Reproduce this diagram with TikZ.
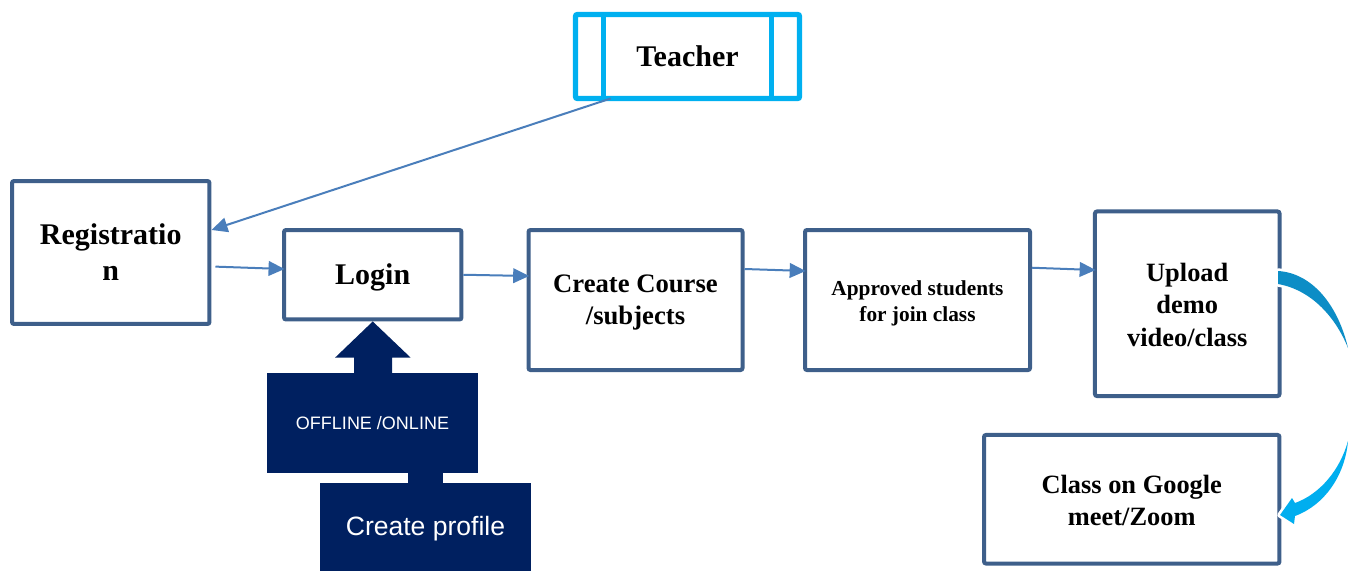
\documentclass[tikz,border=0pt]{standalone}
\usepackage{fontspec}
\setmainfont{Liberation Serif}
\newfontfamily\arialf{Liberation Sans}
\usetikzlibrary{arrows.meta,calc}
\definecolor{boxblue}{HTML}{3E5F8A}
\definecolor{arrowblue}{HTML}{4A7EBB}
\definecolor{navy}{HTML}{002060}
\definecolor{cyanb}{HTML}{00B0F0}
\definecolor{curvea}{HTML}{0C8DC6}
\definecolor{curveb}{HTML}{00AEEF}
\tikzset{
  box/.style={draw=boxblue, line width=3pt, rounded corners=1.5pt, fill=white,
    inner sep=0pt, align=center, font=\bfseries},
  lbl/.style={inner sep=0pt, align=center},
  conn/.style={draw=arrowblue, line width=1.5pt, -{Triangle[length=12pt,width=11pt]}},
  navybox/.style={fill=navy, text=white, inner sep=0pt, align=center},
  tbox/.style={draw=cyanb, line width=4pt, rounded corners=1.5pt, fill=white,
    inner sep=0pt, outer sep=0pt, align=center, font=\bfseries}
}
\begin{document}
\begin{tikzpicture}[x=0.75pt,y=-0.75pt]
\useasboundingbox (0,0) rectangle (1357,571);
\clip (0,0) rectangle (1357,571);

% Teacher
\node[tbox, minimum width=168pt, minimum height=63pt,
  font=\bfseries\fontsize{22.5pt}{26pt}\selectfont] (teacher) at (687.5,56.5) {Teacher};
\draw[cyanb, line width=4pt] ([xshift=-63.2pt]teacher.north) -- ([xshift=-63.2pt]teacher.south);
\draw[cyanb, line width=4pt] ([xshift=63.2pt]teacher.north) -- ([xshift=63.2pt]teacher.south);

% Main boxes
\node[box, minimum width=148.1pt, minimum height=107.2pt,
  font=\bfseries\fontsize{22.5pt}{27pt}\selectfont] (reg) at (110.75,252.5) {Registratio\\n};
\node[box, minimum width=133.1pt, minimum height=67.1pt,
  label={[lbl, yshift=-2.2pt, font=\bfseries\fontsize{22.5pt}{26pt}\selectfont]center:Login}]
  (login) at (372.75,274.75) {};
\node[box, minimum width=160.5pt, minimum height=105pt,
  label={[lbl, yshift=-2.2pt, font=\bfseries\fontsize{20pt}{24pt}\selectfont]center:Create Course\\/subjects}]
  (create) at (635.5,300) {};
\node[box, minimum width=168.75pt, minimum height=105pt,
  label={[lbl, yshift=-2.2pt, font=\bfseries\fontsize{16pt}{19.5pt}\selectfont]center:Approved students\\for join class}]
  (appr) at (917.5,300) {};
\node[box, minimum width=138.4pt, minimum height=138.4pt,
  label={[lbl, yshift=-0.8pt, font=\bfseries\fontsize{19.8pt}{24.4pt}\selectfont]center:Upload\\demo\\video/class}]
  (upload) at (1187.25,303.75) {};
\node[box, minimum width=221.6pt, minimum height=96.4pt,
  label={[lbl, yshift=-0.8pt, font=\bfseries\fontsize{19.8pt}{24pt}\selectfont]center:Class on Google\\meet/Zoom}]
  (class) at (1131.75,499.25) {};

% Navy blocks
\node[navybox, minimum width=158.25pt, minimum height=75pt,
  font=\arialf\fontsize{13.5pt}{15pt}\selectfont] (off) at (372.5,423) {OFFLINE /ONLINE};
\node[navybox, minimum width=158.25pt, minimum height=69pt,
  font=\arialf\fontsize{19.9pt}{23pt}\selectfont] (prof) at (425.5,529) {Create profile};
\fill[navy] (408,471) rectangle (443,485);
\fill[navy] (354,374) -- (354,357.7) -- (335,357.7) -- (login.south)
  -- (410.7,357.7) -- (392,357.7) -- (392,374) -- cycle;

% Connectors
\draw[conn] ([xshift=-57.6pt]teacher.south) -- ([yshift=16.9pt]reg.east);
\draw[conn] ([xshift=3pt,yshift=-10.6pt]reg.east) -- ([xshift=1.9pt,yshift=4.3pt]login.west);
\draw[conn] (login.east) -- ([xshift=2pt,yshift=18pt]create.west);
\draw[conn] ([yshift=23.25pt]create.east) -- ([xshift=2pt,yshift=21.75pt]appr.west);
\draw[conn] ([yshift=24.2pt]appr.east) -- ([xshift=2pt,yshift=25.3pt]upload.west);

% Curved arrow (clipped at right edge)
\begin{scope}
\clip (0,0) rectangle (1348,571);
\path[draw=white, line width=4pt, line join=round, fill=white]
  (1278,271) .. controls (1312,273) and (1338,305) .. (1348,348)
  .. controls (1336,318) and (1312,290) .. (1278,284) -- cycle;
\fill[curvea]
  (1278,271) .. controls (1312,273) and (1338,305) .. (1348,348)
  .. controls (1336,318) and (1312,290) .. (1278,284) -- cycle;
\path[draw=white, line width=4pt, line join=round, fill=white]
  (1348,441) .. controls (1345,475) and (1325,505) .. (1295,516)
  -- (1294,524) -- (1280,515) -- (1292,498) -- (1295,503)
  .. controls (1320,494) and (1340,470) .. (1348,441) -- cycle;
\fill[curveb]
  (1348,441) .. controls (1345,475) and (1325,505) .. (1295,516)
  -- (1294,524) -- (1280,515) -- (1292,498) -- (1295,503)
  .. controls (1320,494) and (1340,470) .. (1348,441) -- cycle;
\end{scope}
\end{tikzpicture}
\end{document}
